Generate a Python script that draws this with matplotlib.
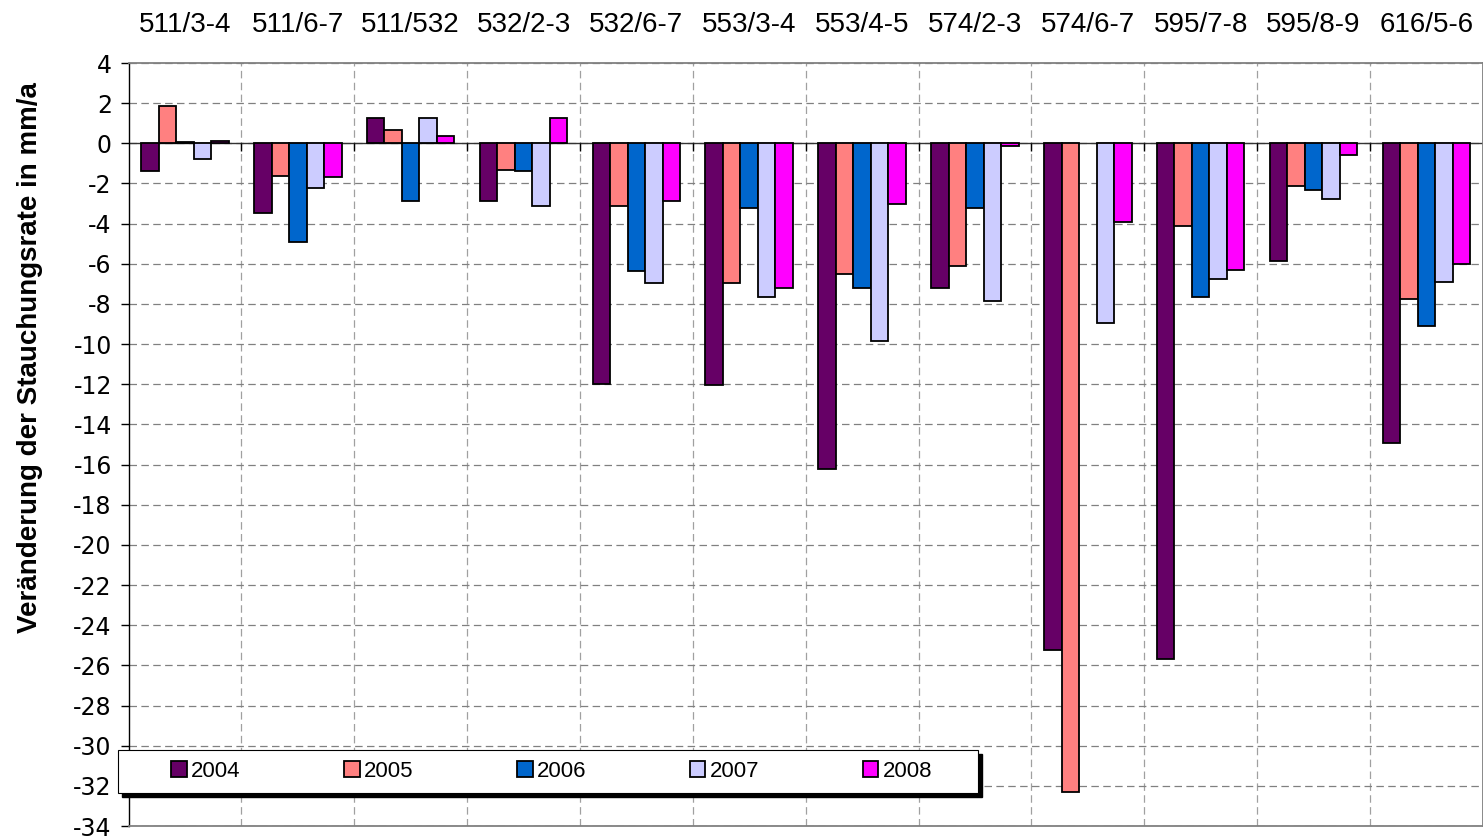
import numpy as np
import matplotlib
matplotlib.use("Agg")
import matplotlib.pyplot as plt
from matplotlib.patches import Rectangle

plt.rcParams['font.family'] = ['Liberation Sans', 'DejaVu Sans']

categories = ["511/3-4", "511/6-7", "511/532", "532/2-3", "532/6-7", "553/3-4",
              "553/4-5", "574/2-3", "574/6-7", "595/7-8", "595/8-9", "616/5-6"]
years = ["2004", "2005", "2006", "2007", "2008"]
v2004 = [-1.4, -3.45, 1.27, -2.85, -12.0, -12.05, -16.2, -7.2, -25.25, -25.7, -5.86, -14.95]
v2005 = [1.85, -1.65, 0.68, -1.35, -3.13, -6.97, -6.53, -6.1, -32.3, -4.1, -2.12, -7.75]
v2006 = [0.08, -4.9, -2.85, -1.4, -6.37, -3.24, -7.22, -3.24, np.nan, -7.65, -2.34, -9.1]
v2007 = [-0.8, -2.24, 1.27, -3.13, -6.95, -7.63, -9.86, -7.85, -8.95, -6.77, -2.77, -6.89]
v2008 = [0.1, -1.68, 0.37, 1.27, -2.85, -7.2, -3.01, -0.15, -3.9, -6.3, -0.6, -6.03]
series = [v2004, v2005, v2006, v2007, v2008]
colors = ["#660066", "#FF8080", "#0066CC", "#CCCCFF", "#FF00FF"]
yticks = list(range(-34, 5, 2))

W, H = 1483, 839
fig = plt.figure(figsize=(W / 100, H / 100), dpi=100)
left, right, top, bottom = 128.5, 1482.8, 63, 826
ax = fig.add_axes([left / W, 1 - bottom / H, (right - left) / W, (bottom - top) / H])

x = np.arange(len(categories))
bw = 0.155
handles = []
for i, (vals, c, yr) in enumerate(zip(series, colors, years)):
    b = ax.bar(x + (i - 2) * bw, vals, width=bw, color=c, edgecolor="black",
               linewidth=1.3, zorder=3, label=yr)
    handles.append(b)

ax.set_xlim(-0.5, len(categories) - 0.5)
ax.set_ylim(-34, 4)
ax.set_yticks(yticks)
ax.set_yticklabels([str(t) for t in yticks], fontsize=17, family='DejaVu Sans')
ax.tick_params(axis='y', direction='out', length=6, width=1, color='black', pad=6)

ax.xaxis.tick_top()
ax.set_xticks(x)
ax.set_xticklabels(categories, fontsize=20)
ax.tick_params(axis='x', length=0, pad=18)
ax.set_xticks(np.arange(0.5, len(categories) - 0.5, 1), minor=True)
ax.tick_params(axis='x', which='minor', length=0)

dash = (0, (6, 3.5))
ax.grid(axis='y', which='major', color='#808080', linestyle=dash, linewidth=0.9, zorder=1)
ax.grid(axis='x', which='minor', color='#A0A0A0', linestyle=dash, linewidth=0.9, zorder=1)
ax.grid(axis='x', which='major', visible=False)

ax.axhline(0, color='#333333', linewidth=1.0, zorder=2)
ax.vlines(np.arange(0.5, len(categories) - 0.5, 1), -0.4, 0, color='black', linewidth=1.0, zorder=2)

for s in ['top', 'right', 'bottom']:
    ax.spines[s].set_color('#808080')
    ax.spines[s].set_linewidth(1.3)
ax.spines['left'].set_color('black')
ax.spines['left'].set_linewidth(1.0)

ax.set_ylabel("Veränderung der Stauchungsrate in mm/a", fontsize=20, fontweight='bold')
ax.yaxis.set_label_coords((30.5 - left) / (right - left), (bottom - 358) / (bottom - top))
ax.yaxis.label.set_va('center')

# legend box with shadow
lx0, lx1, ly0, ly1 = 118, 978, 750, 793
fig.patches.append(Rectangle(((lx0 + 4) / W, 1 - (ly1 + 4) / H), (lx1 - lx0) / W, (ly1 - ly0) / H,
                             transform=fig.transFigure, facecolor='black', edgecolor='black',
                             zorder=4))
fig.patches.append(Rectangle((lx0 / W, 1 - ly1 / H), (lx1 - lx0) / W, (ly1 - ly0) / H,
                             transform=fig.transFigure, facecolor='white', edgecolor='black',
                             linewidth=0.8, zorder=5))
leg = fig.legend(handles=handles, labels=years, loc='center',
                 bbox_to_anchor=((lx0 + lx1) / 2 / W + 0.0025, 1 - (ly0 + ly1) / 2 / H),
                 ncol=5, frameon=False, fontsize=16, handlelength=0.7, handleheight=0.7,
                 handletextpad=0.2, columnspacing=4.65)
leg.set_zorder(6)

fig.savefig("out.png", dpi=100)
